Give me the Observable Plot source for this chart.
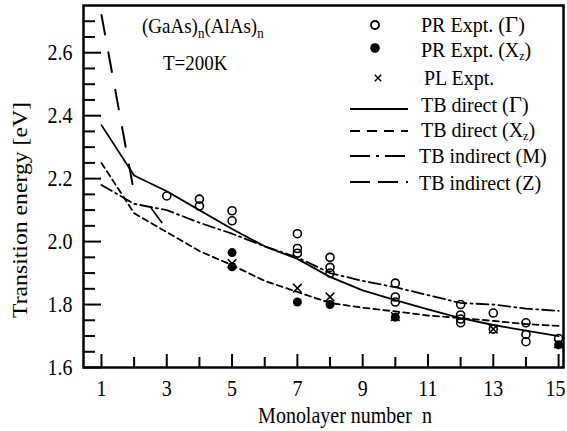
<!DOCTYPE html>
<html><head><meta charset="utf-8">
<script src="https://cdn.jsdelivr.net/npm/d3@7"></script>
<script src="https://cdn.jsdelivr.net/npm/@observablehq/plot@0.6"></script>
<style>body{margin:0;background:#fff}#chart{width:567px;height:431px}</style>
</head><body><div id="chart"></div>
<script>
// ---- data ----
const nAll = [1, 2, 3, 4, 5, 6, 7, 8, 9, 10, 11, 12, 13, 14, 15];
const tbDirectGamma = [2.37, 2.21, 2.16, 2.10, 2.04, 1.985, 1.945, 1.888, 1.845, 1.814, 1.785, 1.757, 1.735, 1.717, 1.70];
const tbDirectXz    = [2.25, 2.09, 2.03, 1.97, 1.925, 1.875, 1.84, 1.805, 1.79, 1.778, 1.765, 1.757, 1.748, 1.738, 1.732];
const tbIndirectM   = [2.18, 2.12, 2.10, 2.06, 2.025, 1.985, 1.95, 1.90, 1.875, 1.855, 1.83, 1.805, 1.80, 1.787, 1.78];
const tbIndirectZn  = [1, 2];
const tbIndirectZ   = [2.72, 2.155];
const tbBranchN     = [2.5, 2.85];
const tbBranchE     = [2.11, 2.06];

const prGammaN = [3, 4, 4, 5, 5, 7, 7, 7, 8, 8, 8, 10, 10, 10, 12, 12, 12, 12, 13, 13, 14, 14, 14, 15];
const prGammaE = [2.145, 2.135, 2.113, 2.098, 2.066, 2.025, 1.978, 1.963, 1.95, 1.918, 1.90, 1.868, 1.824, 1.808, 1.80, 1.767, 1.754, 1.742, 1.773, 1.722, 1.742, 1.705, 1.682, 1.692];
const prXzN = [5, 5, 7, 8, 10, 15];
const prXzE = [1.965, 1.92, 1.808, 1.80, 1.76, 1.672];
const plN = [5, 7, 8, 10, 13, 15];
const plE = [1.93, 1.852, 1.824, 1.762, 1.722, 1.675];

const xTicksMajor = [1, 3, 5, 7, 9, 11, 13, 15];
const xTicksMinor = [2, 4, 6, 8, 10, 12, 14];
const yTicksMajor = [1.6, 1.8, 2.0, 2.2, 2.4, 2.6];
const yTicksMinor = [1.65, 1.7, 1.75, 1.85, 1.9, 1.95, 2.05, 2.1, 2.15, 2.25, 2.3, 2.35, 2.45, 2.5, 2.55, 2.65, 2.7];

const legendLabels = ["PR Expt. (", "PR Expt. (X", "PL Expt.", "TB direct (", "TB direct (X", "TB indirect (M)", "TB indirect (Z)"];

// ---- build tables ----
const series = (name, ns, es) => ns.map((n, i) => ({n, E: es[i], name}));
const lineG = series("G", nAll, tbDirectGamma);
const lineX = series("X", nAll, tbDirectXz);
const lineM = series("M", nAll, tbIndirectM);
const lineZ = series("Z", tbIndirectZn, tbIndirectZ);
const lineB = series("B", tbBranchN, tbBranchE);
const ptsG = series("prG", prGammaN, prGammaE);
const ptsX = series("prX", prXzN, prXzE);
const ptsP = series("pl", plN, plE);

const font = "'Liberation Serif', 'Times New Roman', 'DejaVu Serif', serif";
const stretch = 1.13;
const lastTick = xTicksMajor[xTicksMajor.length - 1];

const svg = Plot.plot({
  width: 567, height: 431,
  marginLeft: 83, marginRight: 4, marginTop: 5, marginBottom: 64,
  x: {domain: [0.45, 15.15]},
  y: {domain: [1.6, 2.75]},
  style: {fontFamily: font, fontSize: "20px", color: "#000", background: "#fff", overflow: "visible"},
  marks: [
    Plot.line(lineG, {x: "n", y: "E", stroke: "#000", strokeWidth: 1.8}),
    Plot.line(lineB, {x: "n", y: "E", stroke: "#000", strokeWidth: 1.6}),
    Plot.line(lineX, {x: "n", y: "E", stroke: "#000", strokeWidth: 1.8, strokeDasharray: "6,4"}),
    Plot.line(lineM, {x: "n", y: "E", stroke: "#000", strokeWidth: 1.8, strokeDasharray: "12,4,2,4"}),
    Plot.line(lineZ, {x: "n", y: "E", stroke: "#000", strokeWidth: 2, strokeDasharray: "20,18"}),
    Plot.dot(ptsG, {x: "n", y: "E", r: 4, stroke: "#000", strokeWidth: 1.6, fill: "none"}),
    Plot.dot(ptsX, {x: "n", y: "E", r: 4.5, fill: "#000", stroke: "none"}),
    Plot.dot(ptsP, {x: "n", y: "E", r: 4, symbol: "times", stroke: "#000", strokeWidth: 1.6}),
    Plot.axisY(yTicksMajor, {tickSize: 18, dx: 18, fill: "none", strokeWidth: 2, label: null}),
    Plot.axisY(yTicksMinor, {tickSize: 12, dx: 12, fill: "none", strokeWidth: 2, label: null}),
    Plot.axisY(yTicksMajor, {tickSize: 0, tickPadding: 11, tickFormat: d3.format(".1f"), label: null, fontSize: 20}),
    Plot.axisX(xTicksMajor, {tickSize: 13, dy: -13, fill: "none", strokeWidth: 2, label: null}),
    Plot.axisX(xTicksMinor, {tickSize: 10, dy: -10, fill: "none", strokeWidth: 2, label: null}),
    Plot.axisX(xTicksMajor.slice(0, -1), {tickSize: 0, tickPadding: 12, label: null, fontSize: 20}),
    Plot.axisX([lastTick], {tickSize: 0, tickPadding: 12, label: null, fontSize: 20, dx: -3}),
    Plot.frame({stroke: "#000", strokeWidth: 2.5})
  ]
});
document.getElementById("chart").append(svg);

// slightly taller glyphs, as in the reference
d3.select(svg).selectAll("g[aria-label='y-axis tick label'] text, g[aria-label='x-axis tick label'] text")
  .attr("transform", function () { return (this.getAttribute("transform") || "") + ` scale(1,${stretch})`; });

// ---- labels, annotations and legend ----
const g = d3.select(svg).append("g").style("font-family", font).attr("fill", "#000").attr("text-anchor", "start");
const at = (x, y, s = stretch) => `translate(${x},${y}) scale(1,${s})`;

g.append("text").attr("transform", at(345, 423)).attr("text-anchor", "middle").attr("font-size", 20)
  .text("Monolayer number  n");
g.append("text").attr("transform", `translate(27,210) rotate(-90) scale(${stretch},1)`).attr("text-anchor", "middle").attr("font-size", 21)
  .text("Transition energy [eV]");

const t1 = g.append("text").attr("transform", at(142, 33)).attr("font-size", 19);
t1.append("tspan").text("(GaAs)");
t1.append("tspan").attr("font-size", 13).attr("dy", 4).text("n");
t1.append("tspan").attr("dy", -4).text("(AlAs)");
t1.append("tspan").attr("font-size", 13).attr("dy", 4).text("n");
g.append("text").attr("transform", at(163, 70)).attr("font-size", 19).text("T=200K");

const legBase = [32, 57, 85, 112, 137, 163, 190];
const lg = g.append("g").attr("font-size", 20);
legendLabels.forEach((lab, i) => {
  const t = lg.append("text").attr("transform", at(i === 2 ? 424 : (i >= 5 ? 419 : 421), legBase[i], 1.04));
  t.append("tspan").text(lab);
  if (i === 0 || i === 3) { t.append("tspan").attr("font-size", 23).text("\u0393"); t.append("tspan").text(")"); }
  if (i === 1 || i === 4) { t.append("tspan").attr("font-size", 12).attr("dy", 3).text("z"); t.append("tspan").attr("dy", -3).text(")"); }
});
// legend symbols
lg.append("circle").attr("cx", 375).attr("cy", 25).attr("r", 4).attr("fill", "none").attr("stroke", "#000").attr("stroke-width", 1.8);
lg.append("circle").attr("cx", 375).attr("cy", 48).attr("r", 4.8).attr("fill", "#000");
lg.append("path").attr("d", d3.symbol(d3.symbolTimes, 28)()).attr("transform", "translate(378,78)").attr("fill", "none").attr("stroke", "#000").attr("stroke-width", 1.5);
const legLines = [[109, null], [131, "10,7"], [156, "20,6,3,6"], [182, "20,8"]];
legLines.forEach(([y, dash]) => {
  const l = lg.append("line").attr("x1", 350).attr("x2", 408).attr("y1", y).attr("y2", y).attr("stroke", "#000").attr("stroke-width", 2.2);
  if (dash) l.attr("stroke-dasharray", dash);
});
</script></body></html>
